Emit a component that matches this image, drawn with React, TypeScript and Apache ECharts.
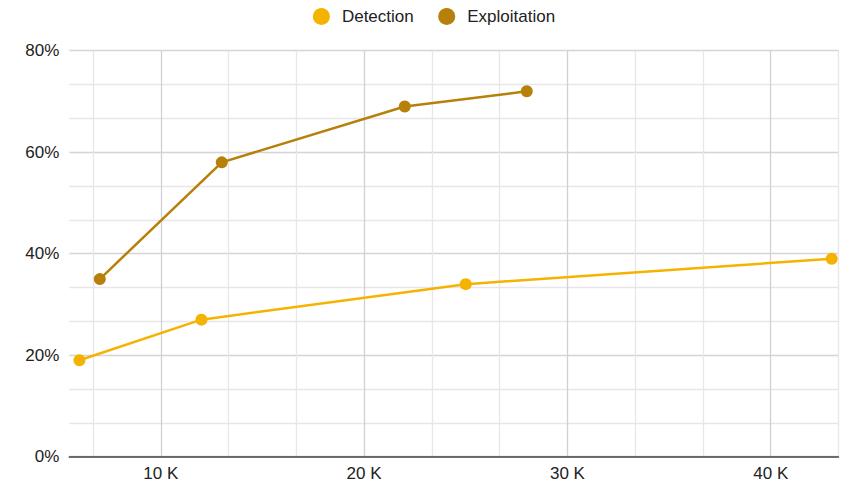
import React, { useEffect, useRef } from "react";
import * as echarts from "echarts";

const seriesNames = ["Detection", "Exploitation"];
const detectionX = [6000, 12000, 25000, 43000];
const detectionY = [19, 27, 34, 39];
const exploitationX = [7000, 13000, 22000, 28000];
const exploitationY = [35, 58, 69, 72];
const colors = ["#F5B301", "#B7800A"];

const FONT = "'Liberation Sans', Arial, Helvetica, sans-serif";
const MAJOR = "#d2d0d4";
const MINOR = "#e8e6ea";

export default function App() {
  const ref = useRef<HTMLDivElement>(null);
  useEffect(() => {
    if (!ref.current) return;
    const chart = echarts.init(ref.current, undefined, { renderer: "svg" });
    const pair = (xs: number[], ys: number[]) => xs.map((x, i) => [x, ys[i]]);
    chart.setOption({
      animation: false,
      backgroundColor: "#ffffff",
      textStyle: { fontFamily: FONT },
      legend: {
        top: 3,
        left: "center",
        icon: "circle",
        itemWidth: 31,
        itemHeight: 17,
        itemGap: 24.5,
        textStyle: { fontSize: 17, color: "#222", fontFamily: FONT },
        data: seriesNames,
      },
      grid: { left: 69.3, right: 29.5, top: 50.7, bottom: 31.3, containLabel: false },
      xAxis: {
        type: "value",
        min: 5500,
        max: 130000 / 3,
        minInterval: 10000,
        maxInterval: 10000,
        axisLine: { show: true, lineStyle: { color: "#444", width: 1.5 } },
        axisTick: { show: false },
        axisLabel: {
          fontSize: 17,
          color: "#222",
          margin: 8,
          fontFamily: FONT,
          showMinLabel: false,
          showMaxLabel: false,
          formatter: (v: number) => (v % 10000 === 0 ? v / 1000 + " K" : ""),
        },
        splitLine: {
          show: true,
          lineStyle: {
            color: ["rgba(255,255,255,0)", MAJOR, MAJOR, MAJOR, MAJOR, MINOR],
            width: 1.3,
          },
        },
        minorTick: { show: false, splitNumber: 3 },
        minorSplitLine: { show: true, lineStyle: { color: MINOR, width: 1.3 } },
      },
      yAxis: {
        type: "value",
        min: 0,
        max: 80,
        interval: 20,
        axisLine: { show: false },
        axisTick: { show: false },
        axisLabel: {
          fontSize: 17,
          color: "#222",
          margin: 10,
          fontFamily: FONT,
          formatter: "{value}%",
        },
        splitLine: { show: true, lineStyle: { color: "#d6d4d8", width: 1.3 } },
        minorTick: { show: false, splitNumber: 3 },
        minorSplitLine: { show: true, lineStyle: { color: MINOR, width: 1.3 } },
      },
      series: [
        {
          name: seriesNames[0],
          type: "line",
          data: pair(detectionX, detectionY),
          color: colors[0],
          symbol: "circle",
          symbolSize: 12,
          lineStyle: { width: 2.5 },
          z: 3,
        },
        {
          name: seriesNames[1],
          type: "line",
          data: pair(exploitationX, exploitationY),
          color: colors[1],
          symbol: "circle",
          symbolSize: 12,
          lineStyle: { width: 2.5 },
          z: 3,
        },
      ],
    });
    return () => chart.dispose();
  }, []);
  return (
    <div
      ref={ref}
      style={{ position: "fixed", left: 0, top: 0, width: 868, height: 488 }}
    />
  );
}
